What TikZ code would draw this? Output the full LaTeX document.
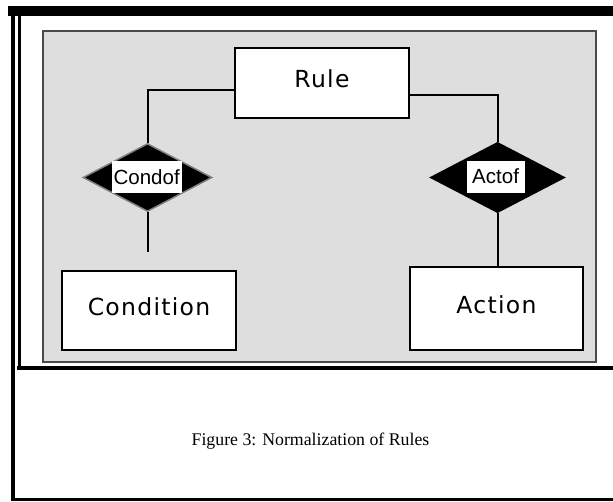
\documentclass[tikz,border=0pt]{standalone}
\usepackage{fontspec}
\setmainfont{Liberation Serif}
\newfontfamily\boxfont[LetterSpace=5.5]{DejaVu Sans}
\newfontfamily\relfont{Liberation Sans}
\usetikzlibrary{shapes.geometric}
\definecolor{panelgray}{HTML}{DEDEDE}
\definecolor{paneledge}{HTML}{4A4A4A}
\definecolor{diamondedge}{HTML}{808080}
\tikzset{
  entity/.style={draw=black, fill=white, line width=2.5pt, inner sep=0pt,
    font=\boxfont\fontsize{23.5}{26}\selectfont, text depth=8pt},
  relation/.style={diamond, fill=black, inner sep=0pt, line width=1.5pt},
  rellabel/.style={fill=white, inner sep=0pt, minimum width=70pt, minimum height=32pt,
    font=\relfont\fontsize{20.5}{22}\selectfont},
  link/.style={line width=2pt, draw=black},
  frameline/.style={draw=black},
}
\begin{document}
\begin{tikzpicture}[x=1pt, y=-1pt]
  \useasboundingbox (0,0) rectangle (613,501);
  \fill[white] (0,0) rectangle (613,501);

  % outer frame rules
  \draw[frameline, line width=10pt] (8,11) -- (613,11);
  \draw[frameline, line width=4pt] (13,6) -- (13,501);
  \draw[frameline, line width=3pt] (19.5,16) -- (19.5,370);
  \draw[frameline, line width=4pt] (17,368) -- (613,368);
  \draw[frameline, line width=3pt] (11,499.5) -- (613,499.5);

  % grey panel
  \draw[fill=panelgray, draw=paneledge, line width=2pt] (43,31) rectangle (596,362);

  % entities
  \node[entity, minimum width=174pt, minimum height=70pt] (rule) at (322,83) {Rule};
  \node[entity, minimum width=174pt, minimum height=79pt] (condition) at (149,310.5) {Condition};
  \node[entity, minimum width=173pt, minimum height=83pt] (action) at (496.5,308.5) {Action};

  % relations
  \node[relation, draw=diamondedge, minimum width=129pt, minimum height=68pt] (condof) at (147.5,177.5) {};
  \node[relation, draw=black, minimum width=134pt, minimum height=70pt] (actof) at (497.5,177.5) {};
  \node[rellabel] (condoflabel) at (146.7,176.7) {Condof};
  \node[rellabel, minimum width=58pt] (actoflabel) at (495.6,176.6) {Actof};

  % connectors
  \coordinate (condend) at (147.5,252);
  \draw[link] ([yshift=-7pt]rule.west) -| (condof.north);
  \draw[link] ([yshift=-12pt]rule.east) -| (actof.north);
  \draw[link] (condof.south) -- (condend);
  \draw[link] (actof.south) -- (actof.south |- action.north);

  % caption
  \node[font=\fontsize{17.8}{21}\selectfont] (caption) at (310.5,441) {Figure 3: Normalization of Rules};
\end{tikzpicture}
\end{document}
